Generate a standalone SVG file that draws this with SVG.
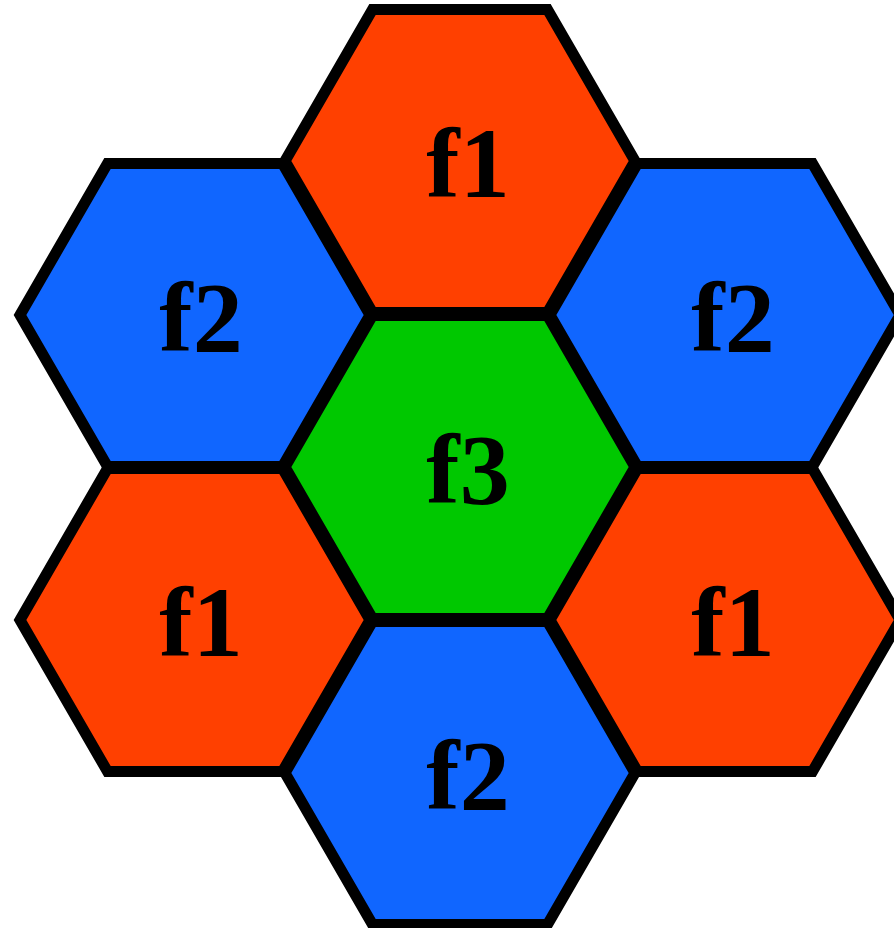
<svg xmlns="http://www.w3.org/2000/svg" width="894" height="928" viewBox="0 0 894 928">
<defs>
<style>
.hex{stroke:#000;stroke-width:11;stroke-linejoin:miter}
.r{fill:#FF4000}.b{fill:#1066FF}.g{fill:#00C800}
text{font-family:"Liberation Serif","Times New Roman",serif;font-weight:bold;font-size:100px;fill:#000;text-anchor:middle}
</style>
<polygon id="hx" points="-175,0 -87.5,-151.5 87.5,-151.5 175,0 87.5,151.5 -87.5,151.5"/>
</defs>
<rect width="894" height="928" fill="#fff"/>
<g id="connectors"/>
<g id="top" transform="translate(460,161)"><use href="#hx" class="hex r"/><text x="8" y="36">f1</text></g>
<g id="upper-left" transform="translate(195,315)"><use href="#hx" class="hex b"/><text x="6" y="36">f2</text></g>
<g id="upper-right" transform="translate(725,315)"><use href="#hx" class="hex b"/><text x="8" y="36">f2</text></g>
<g id="center" transform="translate(460,467)"><use href="#hx" class="hex g"/><text x="8" y="36">f3</text></g>
<g id="lower-left" transform="translate(195,620)"><use href="#hx" class="hex r"/><text x="6" y="36">f1</text></g>
<g id="lower-right" transform="translate(725,620)"><use href="#hx" class="hex r"/><text x="8" y="36">f1</text></g>
<g id="bottom" transform="translate(460,773)"><use href="#hx" class="hex b"/><text x="8" y="36">f2</text></g>
</svg>
